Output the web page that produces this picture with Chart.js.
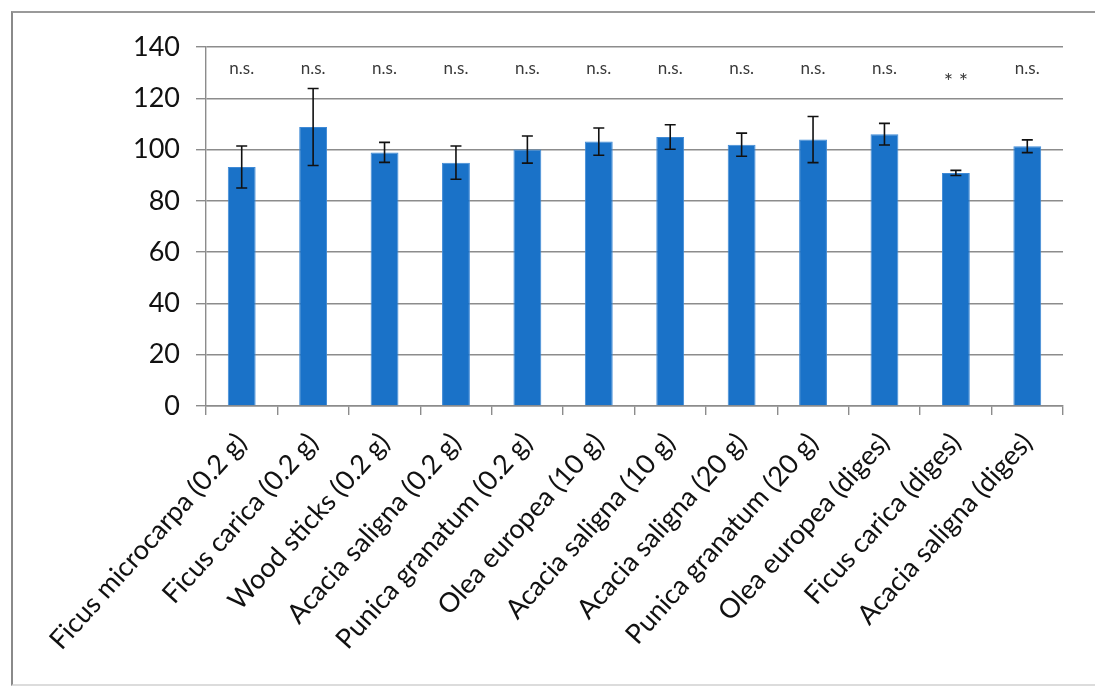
<!DOCTYPE html>
<html>
<head>
<meta charset="utf-8">
<script src="https://cdn.jsdelivr.net/npm/chart.js@4/dist/chart.umd.min.js"></script>
<style>
  html, body { margin: 0; padding: 0; background: #fff; }
  #wrap { position: relative; width: 1108px; height: 696px; }
  #frame { position: absolute; left: 11px; top: 11px; width: 1084px; height: 675px;
           border-top: 2px solid #9a9a9a; border-left: 2px solid #8a8a8a; border-bottom: 2px solid #dcdcdc; box-sizing: border-box; }
</style>
</head>
<body>
<div id="wrap">
  <div id="frame"></div>
  <canvas id="chart" width="1108" height="696"></canvas>
</div>
<script>
const categories = [
  'Ficus microcarpa (0.2 g)', 'Ficus carica (0.2 g)', 'Wood sticks (0.2 g)',
  'Acacia saligna (0.2 g)', 'Punica granatum (0.2 g)', 'Olea europea (10 g)',
  'Acacia saligna (10 g)', 'Acacia saligna (20 g)', 'Punica granatum (20 g)',
  'Olea europea (diges)', 'Ficus carica (diges)', 'Acacia saligna (diges)'
];
const means = [93.2, 108.8, 98.9, 94.9, 100.0, 103.1, 104.9, 101.9, 103.9, 106.0, 90.9, 101.3];
const errors = [8.2, 15.0, 3.9, 6.5, 5.3, 5.3, 4.8, 4.5, 9.0, 4.2, 1.0, 2.5];
const significance = ['n.s.', 'n.s.', 'n.s.', 'n.s.', 'n.s.', 'n.s.', 'n.s.', 'n.s.', 'n.s.', 'n.s.', '**', 'n.s.'];
const yTicks = [0, 20, 40, 60, 80, 100, 120, 140];

const FONT = 'Lato, "Open Sans", sans-serif';

const errorBars = {
  id: 'errorBars',
  afterDatasetsDraw(chart) {
    const ctx = chart.ctx;
    const meta = chart.getDatasetMeta(0);
    const y = chart.scales.y;
    ctx.save();
    ctx.strokeStyle = '#111';
    ctx.lineWidth = 1.6;
    meta.data.forEach((bar, i) => {
      const top = y.getPixelForValue(means[i] + errors[i]);
      const bot = y.getPixelForValue(means[i] - errors[i]);
      const cx = bar.x;
      ctx.beginPath();
      ctx.moveTo(cx, top); ctx.lineTo(cx, bot);
      ctx.moveTo(cx - 5.5, top); ctx.lineTo(cx + 5.5, top);
      ctx.moveTo(cx - 5.5, bot); ctx.lineTo(cx + 5.5, bot);
      ctx.stroke();
    });
    // significance marks above each bar
    ctx.fillStyle = '#3a3a3a';
    ctx.textAlign = 'center';
    ctx.textBaseline = 'middle';
    meta.data.forEach((bar, i) => {
      const s = significance[i];
      if (s === '**') {
        ctx.font = '22px ' + FONT;
        ctx.fillText('* *', bar.x, y.getPixelForValue(126.5));
      } else {
        ctx.font = '17px ' + FONT;
        ctx.fillText(s, bar.x, y.getPixelForValue(131.5));
      }
    });
    ctx.restore();
  }
};

new Chart(document.getElementById('chart'), {
  type: 'bar',
  data: {
    labels: categories,
    datasets: [{
      data: means,
      backgroundColor: '#1a72c8',
      borderColor: '#3f8ad6',
      borderWidth: 1,
      barPercentage: 0.39,
      categoryPercentage: 1.0
    }]
  },
  options: {
    responsive: false,
    animation: false,
    layout: { padding: { left: 20, right: 45, top: 47, bottom: 10 } },
    plugins: { legend: { display: false }, tooltip: { enabled: false } },
    scales: {
      x: {
        grid: { display: true, offset: true, drawOnChartArea: false, drawTicks: true, tickLength: 9, color: '#8c8c8c', lineWidth: 1.4 },
        border: { display: true, color: '#8c8c8c', width: 1.4 },
        ticks: {
          color: '#111', font: { family: FONT, size: 27 },
          maxRotation: 48, minRotation: 48, padding: 12, autoSkip: false
        },
        afterFit: s => { s.height = 280; }
      },
      y: {
        min: 0, max: 140,
        afterBuildTicks: s => { s.ticks = yTicks.map(v => ({ value: v })); },
        grid: { color: '#8c8c8c', lineWidth: 1.4, tickLength: 10 },
        border: { display: true, color: '#8c8c8c', width: 1.4 },
        ticks: { color: '#111', font: { family: FONT, size: 27 }, padding: 16 },
        afterFit: s => { s.width = 186; }
      }
    }
  },
  plugins: [errorBars]
});
</script>
</body>
</html>
